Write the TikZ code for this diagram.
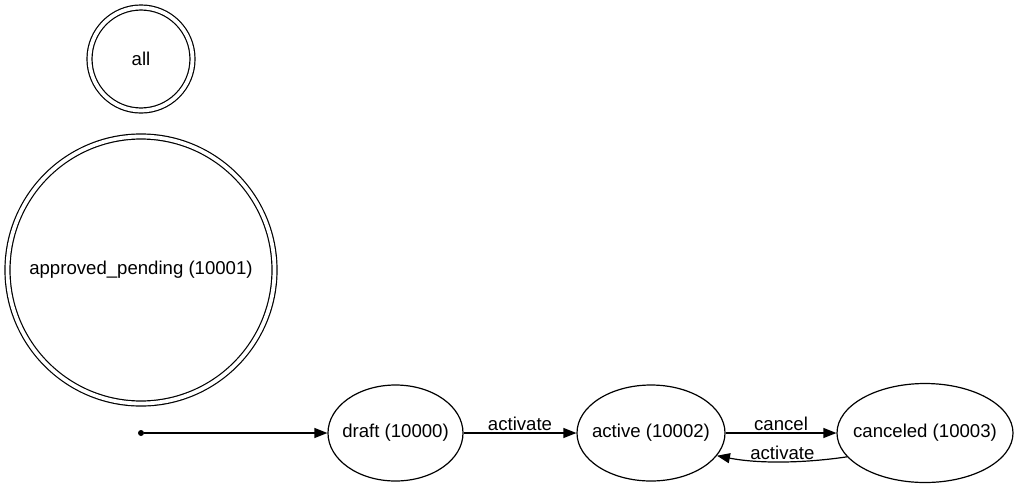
\documentclass[tikz,border=0pt]{standalone}
\usepackage{fontspec}
\setmainfont{Liberation Sans}
\usetikzlibrary{shapes.geometric,arrows.meta}
\begin{document}
\begin{tikzpicture}[x=1pt,y=-1pt,
  every node/.style={font=\fontsize{18.6}{22}\selectfont},
  state/.style={draw, ellipse, line width=1.2pt, inner xsep=-14pt, inner ysep=0pt},
  final/.style={draw, circle, line width=1.2pt, double, double distance=3.8pt, inner sep=0pt},
  edge/.style={line width=1.2pt, -{Triangle[length=13pt,width=10pt]}},
  lbl/.style={above, inner sep=1.5pt}]
\useasboundingbox (0,0) rectangle (1019,488);
\node[final, minimum size=103pt] (all) at (141,59) {all};
\node[final, minimum size=267pt] (pending) at (141,270) {approved\_pending (10001)};
\node[circle, fill, inner sep=0pt, minimum size=6pt] (start) at (141,433) {};
\node[state, minimum width=135pt, minimum height=96pt] (draft) at (395.5,433) {draft (10000)};
\node[state, minimum width=148pt, minimum height=96pt] (active) at (651,433) {active (10002)};
\node[state, minimum width=176pt, minimum height=99pt] (canceled) at (925,433) {canceled (10003)};
\draw[edge] (start) -- (draft);
\draw[edge] (draft) -- node[lbl] {activate} (active);
\draw[edge] (active) -- node[lbl] {cancel} (canceled);
\draw[edge] (canceled.197) .. controls (805,463) and (760,464) .. node[lbl, pos=0.5] {activate} (active.341);
\end{tikzpicture}
\end{document}
